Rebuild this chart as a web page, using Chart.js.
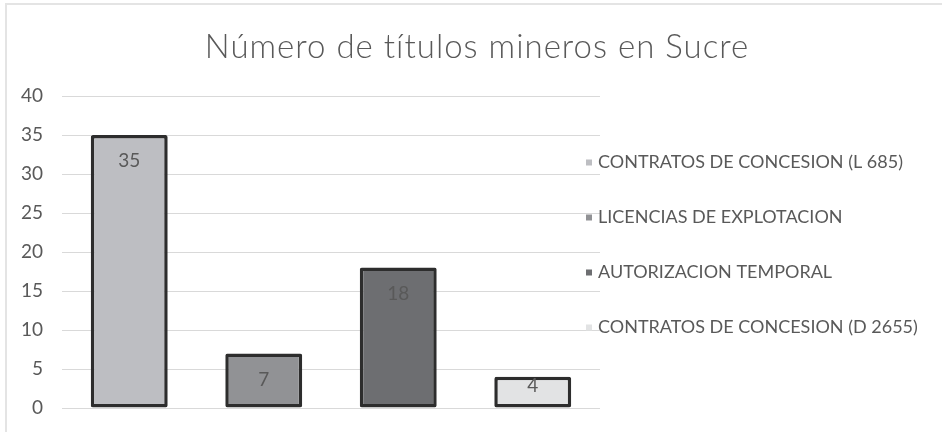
<!DOCTYPE html>
<html><head><meta charset="utf-8">
<script src="https://cdn.jsdelivr.net/npm/chart.js@4.4.0/dist/chart.umd.min.js"></script>
<style>
html,body{margin:0;padding:0;background:#fff;}
#wrap{position:relative;width:942px;height:432px;overflow:hidden;}
#frame{position:absolute;left:5px;top:3px;width:960px;height:460px;border-top:2px solid #e4e4e4;border-left:2px solid #e4e4e4;}
canvas{position:absolute;left:0;top:0;}
</style></head><body>
<div id="wrap"><div id="frame"></div><canvas id="c" width="942" height="432"></canvas></div>
<script>
const chartTitle = 'Número de títulos mineros en Sucre';
const categories = ['CONTRATOS DE CONCESION (L 685)', 'LICENCIAS DE EXPLOTACION', 'AUTORIZACION TEMPORAL', 'CONTRATOS DE CONCESION (D 2655)'];
const values = [35, 7, 18, 4];
const barColors = ['#bdbec2', '#919295', '#6d6e71', '#e2e3e4'];
const yMin = 0, yMax = 40, yStep = 5;

const textColor = '#595959';
const fontFamily = 'Lato, "Open Sans", sans-serif';

const titlePlugin = {
  id: 'titleText',
  afterDraw(chart) {
    const ctx = chart.ctx;
    ctx.save();
    ctx.font = '300 33px ' + fontFamily;
    try { ctx.letterSpacing = '1px'; } catch (e) {}
    ctx.fillStyle = textColor;
    ctx.textAlign = 'center';
    ctx.textBaseline = 'middle';
    ctx.fillText(chartTitle, 477, 47);
    try { ctx.letterSpacing = '0px'; } catch (e) {}
    ctx.restore();
  }
};

const dataLabels = {
  id: 'dataLabels',
  afterDatasetsDraw(chart) {
    const ctx = chart.ctx;
    const meta = chart.getDatasetMeta(0);
    ctx.save();
    ctx.font = '19px ' + fontFamily;
    ctx.fillStyle = textColor;
    ctx.textAlign = 'center';
    ctx.textBaseline = 'middle';
    meta.data.forEach((bar, i) => {
      const h = bar.base - bar.y;
      const off = Math.min(26, h - 22);
      ctx.fillText(String(chart.data.datasets[0].data[i]), bar.x, bar.y + off);
    });
    ctx.restore();
  }
};

const sideLegend = {
  id: 'sideLegend',
  afterDraw(chart) {
    const ctx = chart.ctx;
    const ds = chart.data.datasets[0];
    ctx.save();
    ctx.font = '18px ' + fontFamily;
    ctx.textAlign = 'left';
    ctx.textBaseline = 'middle';
    chart.data.labels.forEach((lab, i) => {
      const y = 162.5 + i * 55;
      ctx.fillStyle = ds.backgroundColor[i];
      ctx.fillRect(586, y - 3, 6, 6);
      ctx.fillStyle = textColor;
      ctx.fillText(lab, 598, y);
    });
    ctx.restore();
  }
};

new Chart(document.getElementById('c'), {
  type: 'bar',
  data: {
    labels: categories,
    datasets: [{
      data: values,
      backgroundColor: barColors,
      borderColor: '#2d2d2d',
      borderWidth: 3.5,
      borderSkipped: false,
      borderRadius: 2,
      categoryPercentage: 1,
      barPercentage: 0.572
    }]
  },
  options: {
    responsive: false,
    animation: false,
    devicePixelRatio: 1,
    layout: { padding: { left: 11, right: 0, top: 96, bottom: 24 } },
    plugins: {
      legend: { display: false },
      tooltip: { enabled: false },
      title: { display: false }
    },
    scales: {
      x: { display: false },
      y: {
        min: yMin, max: yMax,
        ticks: { stepSize: yStep, color: textColor, padding: 19, font: { family: fontFamily, size: 19 } },
        grid: { color: '#d9d9d9', lineWidth: 1, drawTicks: false },
        border: { display: false },
        afterFit(s) { s.width = 51; s.paddingTop = 0; s.paddingBottom = 0; }
      },
      yRight: {
        position: 'right',
        display: true,
        min: yMin, max: yMax,
        ticks: { display: false },
        grid: { display: false, drawTicks: false },
        border: { display: false },
        afterFit(s) { s.width = 342; s.paddingTop = 0; s.paddingBottom = 0; }
      }
    }
  },
  plugins: [dataLabels, sideLegend, titlePlugin]
});
</script>
</body></html>
